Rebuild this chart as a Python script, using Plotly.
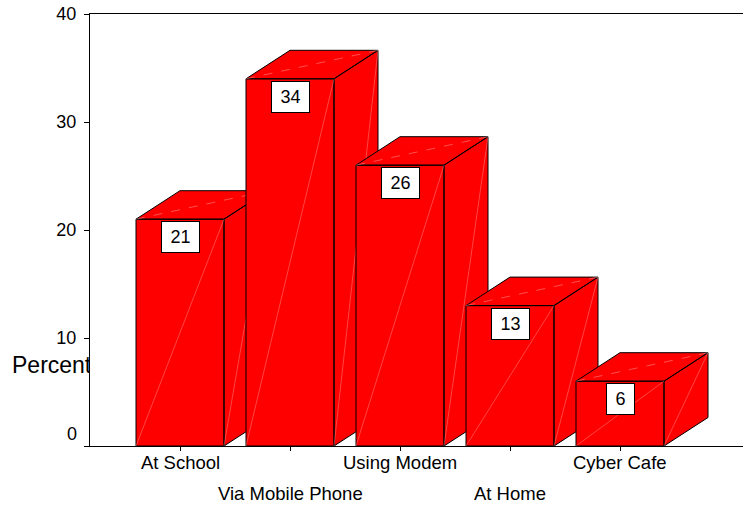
import plotly.graph_objects as go

# Data
categories = ["At School", "Via Mobile Phone", "Using Modem", "At Home", "Cyber Cafe"]
percent = [21, 34, 26, 13, 6]
y_ticks = [0, 10, 20, 30, 40]

# Page geometry (pixels)
W, H = 743, 506
ML, MT, MB = 90, 14, 60
plot_h = H - MT - MB
slot_px = 110            # distance between category centres
first_px = 90            # first category centre, measured from the y axis
y_max = 40

x_lo = -first_px / slot_px
x_hi = (W - ML - first_px) / slot_px
unit_y_px = plot_h / y_max

# 3D box proportions (category units / value units)
half_w = 0.4
depth_x = 44 / slot_px
depth_y = 28.5 / unit_y_px

FONT = "Arial, Liberation Sans, sans-serif"
RED = "#FF0000"

fig = go.Figure()

for i, v in enumerate(percent):
    x0, x1 = i - half_w, i + half_w
    # front face, top face and right side face as separate closed polygons
    xs = [x0, x1, x1, x0, x0, None,
          x0, x1, x1 + depth_x, x0 + depth_x, x0, None,
          x1, x1 + depth_x, x1 + depth_x, x1, x1]
    ys = [0, 0, v, v, 0, None,
          v, v, v + depth_y, v + depth_y, v, None,
          0, depth_y, v + depth_y, v, 0]
    fig.add_trace(go.Scatter(
        x=xs, y=ys, mode="lines", fill="toself", fillcolor=RED,
        line=dict(color="black", width=1), hoverinfo="skip", showlegend=False,
    ))
    # faint shading seams across each face
    fig.add_trace(go.Scatter(
        x=[x0, x1, None, x1, x1 + depth_x],
        y=[0, v, None, 0, v + depth_y],
        mode="lines", line=dict(color="rgba(255,190,190,0.6)", width=0.6),
        hoverinfo="skip", showlegend=False,
    ))
    fig.add_trace(go.Scatter(
        x=[x0, x1 + depth_x], y=[v, v + depth_y],
        mode="lines", line=dict(color="rgba(255,190,190,0.7)", width=0.6, dash="dash"),
        hoverinfo="skip", showlegend=False,
    ))

# Axis title, clipped where it meets the plot frame
fig.add_trace(go.Scatter(
    x=[12], y=[446 - 367], mode="text", text=["Percent"],
    textposition="middle right", textfont=dict(family=FONT, size=23, color="black"),
    xaxis="x2", yaxis="y2", cliponaxis=True, hoverinfo="skip", showlegend=False,
))

annotations = []
# value boxes
for i, v in enumerate(percent):
    label = str(v)
    annotations.append(dict(
        x=i, y=v, xref="x", yref="y", text=label, showarrow=False,
        xanchor="center", yanchor="top", yshift=-2,
        font=dict(family=FONT, size=18, color="black"),
        bgcolor="white", bordercolor="black", borderwidth=1, borderpad=0,
        width=37 if len(label) > 1 else 27, height=30,
    ))
# staggered category labels
for i, c in enumerate(categories):
    annotations.append(dict(
        x=i, y=0, xref="x", yref="paper", text=c, showarrow=False,
        xanchor="center", yanchor="middle", yshift=-16.5 if i % 2 == 0 else -47.5,
        font=dict(family=FONT, size=18.5, color="black"),
    ))
# the zero label sits raised above the category axis
annotations.append(dict(
    x=ML / W, y=y_ticks[0], xref="paper", yref="y", text=str(y_ticks[0]), showarrow=False,
    xanchor="right", yanchor="middle", xshift=-11, yshift=12,
    font=dict(family=FONT, size=18, color="black"),
))

fig.update_layout(
    width=W, height=H,
    margin=dict(l=0, r=0, t=MT, b=MB),
    paper_bgcolor="white", plot_bgcolor="white",
    font=dict(family=FONT, size=18, color="black"),
    showlegend=False,
    annotations=annotations,
    xaxis=dict(
        domain=[ML / W, 1], range=[x_lo, x_hi],
        tickvals=list(range(len(categories))), showticklabels=False,
        ticks="outside", ticklen=4, tickcolor="black",
        showline=True, linecolor="black", linewidth=1, mirror=True,
        showgrid=False, zeroline=False,
    ),
    yaxis=dict(
        range=[0, y_max], tickvals=y_ticks,
        ticktext=[""] + [str(t) for t in y_ticks[1:]],
        ticks="outside", ticklen=5, tickcolor="black",
        tickfont=dict(family=FONT, size=18, color="black"),
        ticklabelstandoff=4,
        showline=True, linecolor="black", linewidth=1,
        showgrid=False, zeroline=False,
    ),
    xaxis2=dict(domain=[0, ML / W], range=[0, ML], visible=False, anchor="y2"),
    yaxis2=dict(domain=[0, 1], range=[0, plot_h], visible=False, anchor="x2"),
)

fig.write_html("out.html")
